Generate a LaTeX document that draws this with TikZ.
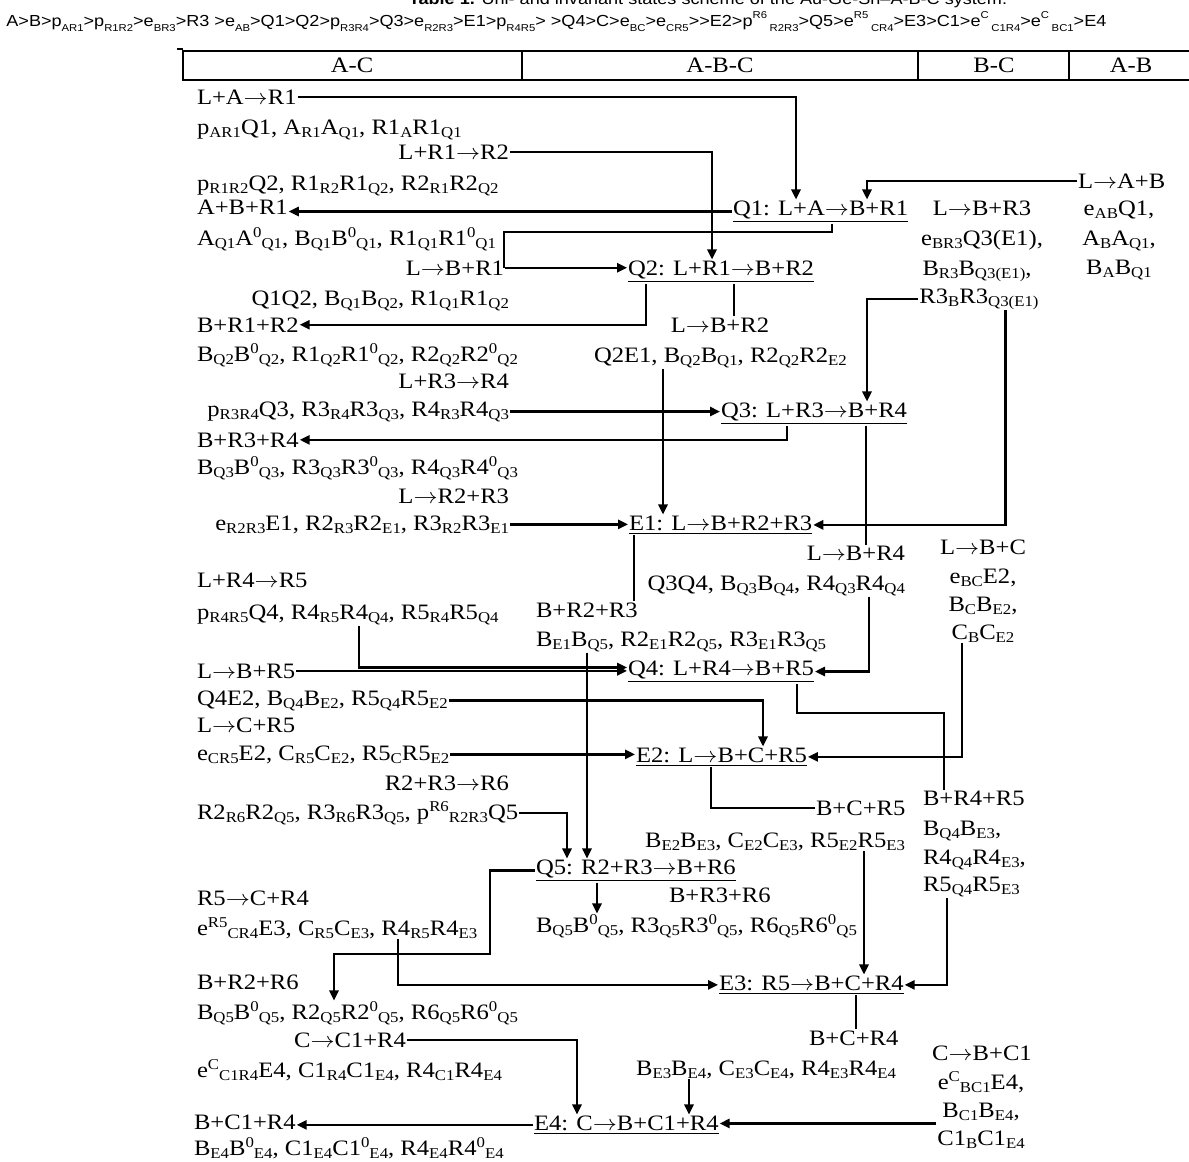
\documentclass[tikz,border=0pt]{standalone}
\usepackage{fontspec}
\setmainfont{Liberation Serif}[FakeStretch=1.12]
\newfontfamily\ordersf{Liberation Sans}[FakeStretch=1.13]
\usetikzlibrary{arrows.meta,calc}
\newcommand\lw[1]{\raisebox{-0.32ex}{\fontsize{7.5}{8}\selectfont #1}}
\newcommand\hg[1]{\raisebox{0.75ex}{\fontsize{7.5}{8}\selectfont #1}}
\newcommand\olw[1]{\raisebox{-0.7ex}{\fontsize{5}{6}\selectfont #1}}
\newcommand\ohg[1]{\raisebox{0.9ex}{\fontsize{5}{6}\selectfont #1}}
\newcommand\yields{\scalebox{1.1}[1]{$\rightarrow$}}

\begin{document}
\begin{tikzpicture}[
    x=0.5pt, y=-0.5pt,
    txt/.style={inner sep=0.5pt, outer sep=0pt, font=\fontsize{11}{13}\selectfont},
    state/.style={txt},
    arrow/.style={-{Triangle[length=5pt,width=4.6pt]}, line width=1.1pt},
    link/.style={line width=1.1pt},
    cell/.style={line width=0.7pt}
]
\useasboundingbox (0,0) rectangle (1189,1162);

% ===== TITLE AND ORDER =====
\node[anchor=base, font=\ordersf\fontsize{8}{9}\selectfont] (title) at (708,4) {\textbf{Table 1.} Uni- and invariant states scheme of the Au-Ge-Sn–A-B-C system.};
\node[anchor=base west, inner sep=0pt, font=\ordersf\fontsize{8}{9}\selectfont] (order) at (6,26) {A>B>p\olw{AR1}>p\olw{R1R2}>e\olw{BR3}>R3 >e\olw{AB}>Q1>Q2>p\olw{R3R4}>Q3>e\olw{R2R3}>E1>p\olw{R4R5}> >Q4>C>e\olw{BC}>e\olw{CR5}>>E2>p\ohg{R6}\,\olw{R2R3}>Q5>e\ohg{R5}\,\olw{CR4}>E3>C1>e\ohg{C}\,\olw{C1R4}>e\ohg{C}\,\olw{BC1}>E4};

% ===== HEADER =====
\draw[cell] (177,49) -- (183,49);
\draw[cell] (1195,51) -- (183,51) -- (183,80) -- (1195,80);
\draw[cell] (522,51) -- (522,80);
\draw[cell] (918,51) -- (918,80);
\draw[cell] (1069,51) -- (1069,80);
\node[txt, anchor=base] (hac) at (352,72) {A-C};
\node[txt, anchor=base] (habc) at (720,72) {A-B-C};
\node[txt, anchor=base] (hbc) at (994,72) {B-C};
\node[txt, anchor=base] (hab) at (1131,72) {A-B};

% ===== A-C COLUMN =====
\node[txt, anchor=base west] (lar1) at (196,104) {L+A\yields R1};
\node[txt, anchor=base west] (par1) at (196,134) {p\lw{AR1}Q1, A\lw{R1}A\lw{Q1}, R1\lw{A}R1\lw{Q1}};
\node[txt, anchor=base east] (lr1r2) at (510,159) {L+R1\yields R2};
\node[txt, anchor=base west] (pr1r2) at (196,190) {p\lw{R1R2}Q2, R1\lw{R2}R1\lw{Q2}, R2\lw{R1}R2\lw{Q2}};
\node[txt, anchor=base west] (abr1) at (196,214) {A+B+R1};
\node[txt, anchor=base west] (aq1) at (196,245) {A\lw{Q1}A\hg{0}\lw{Q1}, B\lw{Q1}B\hg{0}\lw{Q1}, R1\lw{Q1}R1\hg{0}\lw{Q1}};
\node[txt, anchor=base east] (lbr1) at (505,275) {L\yields B+R1};
\node[txt, anchor=base east] (q1q2) at (510,305) {Q1Q2, B\lw{Q1}B\lw{Q2}, R1\lw{Q1}R1\lw{Q2}};
\node[txt, anchor=base west] (br1r2) at (196,332) {B+R1+R2};
\node[txt, anchor=base west] (bq2) at (196,361) {B\lw{Q2}B\hg{0}\lw{Q2}, R1\lw{Q2}R1\hg{0}\lw{Q2}, R2\lw{Q2}R2\hg{0}\lw{Q2}};
\node[txt, anchor=base east] (lr3r4) at (510,388) {L+R3\yields R4};
\node[txt, anchor=base east] (pr3r4) at (510,416) {p\lw{R3R4}Q3, R3\lw{R4}R3\lw{Q3}, R4\lw{R3}R4\lw{Q3}};
\node[txt, anchor=base west] (br3r4) at (196,447) {B+R3+R4};
\node[txt, anchor=base west] (bq3) at (196,474) {B\lw{Q3}B\hg{0}\lw{Q3}, R3\lw{Q3}R3\hg{0}\lw{Q3}, R4\lw{Q3}R4\hg{0}\lw{Q3}};
\node[txt, anchor=base east] (lr2r3) at (510,503) {L\yields R2+R3};
\node[txt, anchor=base east] (er2r3) at (510,530) {e\lw{R2R3}E1, R2\lw{R3}R2\lw{E1}, R3\lw{R2}R3\lw{E1}};
\node[txt, anchor=base west] (lr4r5) at (196,587) {L+R4\yields R5};
\node[txt, anchor=base west] (pr4r5) at (196,619) {p\lw{R4R5}Q4, R4\lw{R5}R4\lw{Q4}, R5\lw{R4}R5\lw{Q4}};
\node[txt, anchor=base west] (lbr5) at (196,678) {L\yields B+R5};
\node[txt, anchor=base west] (q4e2) at (196,705) {Q4E2, B\lw{Q4}B\lw{E2}, R5\lw{Q4}R5\lw{E2}};
\node[txt, anchor=base west] (lcr5) at (196,732) {L\yields C+R5};
\node[txt, anchor=base west] (ecr5) at (196,760) {e\lw{CR5}E2, C\lw{R5}C\lw{E2}, R5\lw{C}R5\lw{E2}};
\node[txt, anchor=base east] (lr6) at (510,790) {R2+R3\yields R6};
\node[txt, anchor=base west] (pr6) at (196,819) {R2\lw{R6}R2\lw{Q5}, R3\lw{R6}R3\lw{Q5}, p\hg{R6}\lw{R2R3}Q5};
\node[txt, anchor=base west] (r5cr4) at (196,905) {R5\yields C+R4};
\node[txt, anchor=base west] (er5) at (196,935) {e\hg{R5}\lw{CR4}E3, C\lw{R5}C\lw{E3}, R4\lw{R5}R4\lw{E3}};
\node[txt, anchor=base west] (br2r6) at (196,989) {B+R2+R6};
\node[txt, anchor=base west] (bq5a) at (196,1019) {B\lw{Q5}B\hg{0}\lw{Q5}, R2\lw{Q5}R2\hg{0}\lw{Q5}, R6\lw{Q5}R6\hg{0}\lw{Q5}};
\node[txt, anchor=base east] (cc1r4) at (407,1047) {C\yields C1+R4};
\node[txt, anchor=base west] (ec1r4) at (196,1077) {e\hg{C}\lw{C1R4}E4, C1\lw{R4}C1\lw{E4}, R4\lw{C1}R4\lw{E4}};
\node[txt, anchor=base west] (bc1r4) at (193,1129) {B+C1+R4};
\node[txt, anchor=base west] (be4) at (193,1155) {B\lw{E4}B\hg{0}\lw{E4}, C1\lw{E4}C1\hg{0}\lw{E4}, R4\lw{E4}R4\hg{0}\lw{E4}};

% ===== A-B-C COLUMN: STATES =====
\node[state, anchor=base west] (q1) at (732,215) {\underline{Q1: L+A\yields B+R1}};
\node[state, anchor=base west] (q2) at (627,275) {\underline{Q2: L+R1\yields B+R2}};
\node[state, anchor=base west] (q3) at (720,417) {\underline{Q3: L+R3\yields B+R4}};
\node[state, anchor=base west] (e1) at (628,530) {\underline{E1: L\yields B+R2+R3}};
\node[state, anchor=base west] (q4) at (627,675) {\underline{Q4: L+R4\yields B+R5}};
\node[state, anchor=base west] (e2) at (635,762) {\underline{E2: L\yields B+C+R5}};
\node[state, anchor=base west] (q5) at (535,874) {\underline{Q5: R2+R3\yields B+R6}};
\node[state, anchor=base west] (e3) at (718,990) {\underline{E3: R5\yields B+C+R4}};
\node[state, anchor=base west] (e4) at (533,1130) {\underline{E4: C\yields B+C1+R4}};

% ===== A-B-C COLUMN: TEXTS =====
\node[txt, anchor=base] (lbr2) at (720,332) {L\yields B+R2};
\node[txt, anchor=base west] (q2e1) at (593,362) {Q2E1, B\lw{Q2}B\lw{Q1}, R2\lw{Q2}R2\lw{E2}};
\node[txt, anchor=base east] (lbr4) at (906,560) {L\yields B+R4};
\node[txt, anchor=base east] (q3q4) at (906,590) {Q3Q4, B\lw{Q3}B\lw{Q4}, R4\lw{Q3}R4\lw{Q4}};
\node[txt, anchor=base west] (br2r3) at (535,617) {B+R2+R3};
\node[txt, anchor=base west] (be1) at (535,646) {B\lw{E1}B\lw{Q5}, R2\lw{E1}R2\lw{Q5}, R3\lw{E1}R3\lw{Q5}};
\node[txt, anchor=base west] (bcr5) at (815,815) {B+C+R5};
\node[txt, anchor=base east] (be2) at (906,847) {B\lw{E2}B\lw{E3}, C\lw{E2}C\lw{E3}, R5\lw{E2}R5\lw{E3}};
\node[txt, anchor=base west] (br3r6) at (668,902) {B+R3+R6};
\node[txt, anchor=base west] (bq5b) at (535,932) {B\lw{Q5}B\hg{0}\lw{Q5}, R3\lw{Q5}R3\hg{0}\lw{Q5}, R6\lw{Q5}R6\hg{0}\lw{Q5}};
\node[txt, anchor=base west] (bcr4) at (808,1045) {B+C+R4};
\node[txt, anchor=base east] (be3) at (897,1075) {B\lw{E3}B\lw{E4}, C\lw{E3}C\lw{E4}, R4\lw{E3}R4\lw{E4}};

% ===== B-C COLUMN =====
\node[txt, anchor=base] (lbr3) at (982,215) {L\yields B+R3};
\node[txt, anchor=base] (ebr3) at (982,245) {e\lw{BR3}Q3(E1),};
\node[txt, anchor=base] (br3) at (977,275) {B\lw{R3}B\lw{Q3(E1)},};
\node[txt, anchor=base] (r3b) at (979,303) {R3\lw{B}R3\lw{Q3(E1)}};
\node[txt, anchor=base] (lbc) at (983,554) {L\yields B+C};
\node[txt, anchor=base] (ebc) at (983,583) {e\lw{BC}E2,};
\node[txt, anchor=base] (bcb) at (983,611) {B\lw{C}B\lw{E2},};
\node[txt, anchor=base] (cbc) at (983,639) {C\lw{B}C\lw{E2}};
\node[txt, anchor=base west] (br4r5) at (922,805) {B+R4+R5};
\node[txt, anchor=base west] (bq4) at (922,835) {B\lw{Q4}B\lw{E3},};
\node[txt, anchor=base west] (r4q4) at (922,864) {R4\lw{Q4}R4\lw{E3},};
\node[txt, anchor=base west] (r5q4) at (922,891) {R5\lw{Q4}R5\lw{E3}};
\node[txt, anchor=base] (cbc1) at (982,1060) {C\yields B+C1};
\node[txt, anchor=base] (ebc1) at (981,1089) {e\hg{C}\lw{BC1}E4,};
\node[txt, anchor=base] (bc1) at (981,1117) {B\lw{C1}B\lw{E4},};
\node[txt, anchor=base] (c1b) at (981,1145) {C1\lw{B}C1\lw{E4}};

% ===== A-B COLUMN =====
\node[txt, anchor=base west] (lab) at (1077,188) {L\yields A+B};
\node[txt, anchor=base] (eab) at (1119,215) {e\lw{AB}Q1,};
\node[txt, anchor=base] (aba) at (1119,245) {A\lw{B}A\lw{Q1},};
\node[txt, anchor=base] (bab) at (1119,274) {B\lw{A}B\lw{Q1}};

% ===== JUNCTIONS =====
\coordinate (jq1) at (504,232);
\coordinate (jq4) at (944,713);
\coordinate (jq5) at (490,954);
\coordinate (jc1) at ($(c1b.north west)+(0,-6)$);

% ===== CONNECTORS: Q1, Q2 =====
\draw[arrow] (lar1.east) -| ($(q1.north west)+(64,0)$);
\draw[arrow] (lab.west) -| ($(q1.north west)+(135,0)$);
\draw[arrow] (lr1r2.east) -| ($(q2.north west)+(85,0)$);
\draw[arrow] (q1.west) -- (q1.west -| abr1.east);
\draw[link] ($(q1.south west)+(100,0)$) |- (jq1) -- (jq1 |- lbr1.east);
\draw[arrow] (lbr1.east) -- (lbr1.east -| q2.west);
\draw[arrow] ($(q2.south west)+(19,0)$) |- (br1r2.east);
\draw[link] ($(q2.south west)+(107,0)$) -- ($(lbr2.north)+(14,0)$);

% ===== CONNECTORS: Q3, E1 =====
\draw[arrow] ($(q2e1.south west)+(70,0)$) -- ($(e1.north west)+(35,0)$);
\draw[arrow] (r3b.west) -| ($(q3.north west)+(147,0)$);
\draw[arrow] ($(r3b.south west)+(87,0)$) |- (e1.east);
\draw[arrow] (pr3r4.east) -- (pr3r4.east -| q3.west);
\draw[arrow] ($(q3.south west)+(67,0)$) |- (br3r4.east);
\draw[link] ($(q3.south west)+(146,0)$) -- ($(lbr4.north east)+(-40,0)$);
\draw[arrow] (er2r3.east) -- (er2r3.east -| e1.west);
\draw[link] ($(e1.south west)+(6,0)$) -- ($(br2r3.north west)+(99,0)$);

% ===== CONNECTORS: Q4, E2 =====
\draw[arrow] ($(q3q4.south east)+(-37,0)$) |- (q4.east);
\draw[arrow] ($(pr4r5.south west)+(163,0)$) |- ($(q4.west)+(0,-4)$);
\draw[arrow] (lbr5.east) -- (lbr5.east -| q4.west);
\draw[link] ($(q4.south west)+(170,0)$) |- (jq4) -- (jq4 |- br4r5.north);
\draw[arrow] (q4e2.east) -| ($(e2.north west)+(128,0)$);
\draw[arrow] (ecr5.east) -- (ecr5.east -| e2.west);
\draw[arrow] ($(cbc.south)+(-21,0)$) |- (e2.east);
\draw[link] ($(e2.south west)+(76,0)$) |- (bcr5.west);

% ===== CONNECTORS: Q5, E3 =====
\draw[arrow] (pr6.east) -| ($(q5.north west)+(32,0)$);
\draw[arrow] ($(be1.south west)+(52,0)$) -- ($(q5.north west)+(52,0)$);
\draw[arrow] (q5.west) -| (jq5) -| ($(bq5a.north west)+(138,0)$);
\draw[arrow] ($(q5.south west)+(62,0)$) -- ($(bq5b.north west)+(62,0)$);
\draw[arrow] ($(be2.south east)+(-42,0)$) -- ($(e3.north west)+(146,0)$);
\draw[arrow] ($(r5q4.south west)+(25,0)$) |- (e3.east);
\draw[arrow] ($(er5.south west)+(202,0)$) |- (e3.west);
\draw[link] ($(e3.south west)+(138,0)$) -- ($(bcr4.north west)+(48,0)$);

% ===== CONNECTORS: E4 =====
\draw[arrow] (cc1r4.east) -| ($(e4.north west)+(44,0)$);
\draw[arrow] ($(be3.south east)+(-208,0)$) -- ($(e4.north west)+(156,0)$);
\draw[arrow] (e4.west) -- (e4.west -| bc1r4.east);
\draw[arrow] (jc1) -- (jc1 -| e4.east);

\end{tikzpicture}
\end{document}
